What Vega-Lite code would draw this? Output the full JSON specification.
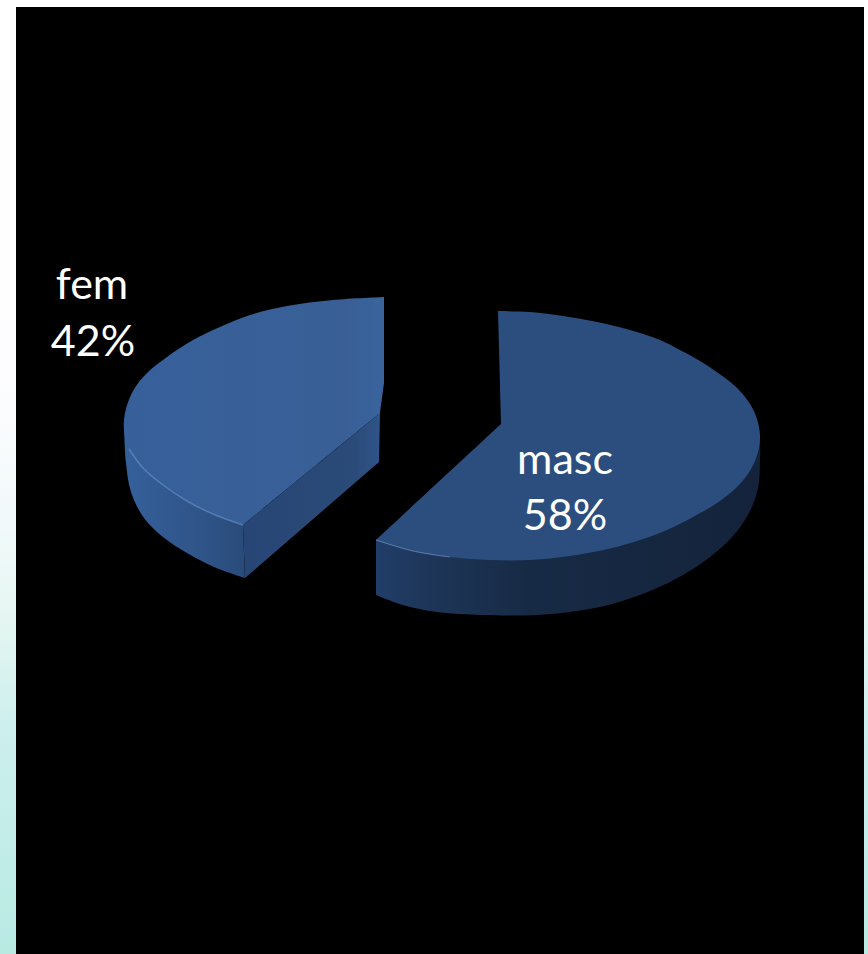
{
  "$schema": "https://vega.github.io/schema/vega-lite/v6.json",
  "width": 868,
  "height": 954,
  "padding": 0,
  "autosize": {"type": "fit", "contains": "padding"},
  "background": "#ffffff",
  "config": {"view": {"stroke": null}},
  "datasets": {
    "slide": [{"x":0,"x2":868,"y":0,"y2":954}],
    "stage": [{"x":16,"x2":864,"y":7,"y2":954}],
    "femWall": [
      {"i":1,"x":124,"y":425},{"i":2,"x":124,"y":425},{"i":3,"x":126,"y":463},{"i":4,"x":131,"y":492},{"i":5,"x":144,"y":518},{"i":6,"x":163,"y":537},{"i":7,"x":187,"y":553},{"i":8,"x":214,"y":567},{"i":9,"x":245,"y":578},{"i":10,"x":245,"y":578},
      {"i":11,"x":243,"y":525},{"i":12,"x":243,"y":525},{"i":13,"x":187,"y":500},{"i":14,"x":143,"y":467}
    ],
    "femCut": [
      {"i":1,"x":243,"y":525},{"i":2,"x":380,"y":413},{"i":3,"x":379,"y":462},{"i":4,"x":245,"y":578}
    ],
    "femTop": [
      {"i":1,"x":384,"y":297},{"i":2,"x":384,"y":297},{"i":3,"x":333,"y":300},{"i":4,"x":287,"y":306},{"i":5,"x":250,"y":315},{"i":6,"x":220,"y":327},{"i":7,"x":193,"y":340},{"i":8,"x":167,"y":357},{"i":9,"x":147,"y":373},{"i":10,"x":133,"y":391},{"i":11,"x":125,"y":413},{"i":12,"x":124,"y":430},{"i":13,"x":129,"y":449},{"i":14,"x":143,"y":468},{"i":15,"x":163,"y":485},{"i":16,"x":187,"y":501},{"i":17,"x":213,"y":514},{"i":18,"x":243,"y":525},{"i":19,"x":243,"y":525},
      {"i":20,"x":380,"y":413},{"i":21,"x":380,"y":413},{"i":22,"x":384,"y":383},{"i":23,"x":384,"y":383}
    ],
    "femRim": [
      {"i":1,"x":129,"y":449},{"i":2,"x":143,"y":468},{"i":3,"x":163,"y":485},{"i":4,"x":187,"y":501},{"i":5,"x":213,"y":514},{"i":6,"x":243,"y":525}
    ],
    "mascWall": [
      {"i":1,"x":376,"y":540},{"i":2,"x":376,"y":540},{"i":3,"x":376,"y":595},{"i":4,"x":376,"y":595},{"i":5,"x":403,"y":605},{"i":6,"x":437,"y":612},{"i":7,"x":483,"y":615},{"i":8,"x":537,"y":615},{"i":9,"x":577,"y":611},{"i":10,"x":612,"y":604},{"i":11,"x":650,"y":591},{"i":12,"x":683,"y":575},{"i":13,"x":710,"y":557},{"i":14,"x":733,"y":536},{"i":15,"x":749,"y":513},{"i":16,"x":758,"y":488},{"i":17,"x":760,"y":460},{"i":18,"x":760,"y":435},{"i":19,"x":760,"y":435},
      {"i":20,"x":560,"y":500}
    ],
    "mascTop": [
      {"i":1,"x":498,"y":311},{"i":2,"x":498,"y":311},{"i":3,"x":530,"y":312},{"i":4,"x":563,"y":316},{"i":5,"x":597,"y":322},{"i":6,"x":630,"y":330},{"i":7,"x":660,"y":340},{"i":8,"x":680,"y":350},{"i":9,"x":700,"y":361},{"i":10,"x":718,"y":373},{"i":11,"x":735,"y":386},{"i":12,"x":748,"y":401},{"i":13,"x":756,"y":416},{"i":14,"x":760,"y":435},{"i":15,"x":758,"y":452},{"i":16,"x":751,"y":469},{"i":17,"x":737,"y":487},{"i":18,"x":717,"y":503},{"i":19,"x":693,"y":517},{"i":20,"x":667,"y":530},{"i":21,"x":640,"y":540},{"i":22,"x":608,"y":549},{"i":23,"x":570,"y":556},{"i":24,"x":530,"y":560},{"i":25,"x":490,"y":560},{"i":26,"x":450,"y":557},{"i":27,"x":413,"y":551},{"i":28,"x":376,"y":540},{"i":29,"x":376,"y":540},
      {"i":30,"x":501,"y":424},{"i":31,"x":501,"y":424}
    ],
    "mascRim": [
      {"i":1,"x":376,"y":540},{"i":2,"x":413,"y":551},{"i":3,"x":450,"y":557}
    ],
    "labels": [
      {"label":"fem","x":92,"y":286},
      {"label":"42%","x":93,"y":343},
      {"label":"masc","x":565,"y":461},
      {"label":"58%","x":565,"y":517}
    ]
  },
  "encoding": {
    "x": {"field": "x", "type": "quantitative", "axis": null, "scale": {"domain": [0, 868], "nice": false, "zero": false}},
    "y": {"field": "y", "type": "quantitative", "axis": null, "scale": {"domain": [954, 0], "nice": false, "zero": false}}
  },
  "layer": [
    {
      "data": {"name": "slide"},
      "mark": {"type": "rect", "fill": {"gradient": "linear", "x1": 0, "y1": 0, "x2": 0, "y2": 1, "stops": [
        {"offset": 0, "color": "#ffffff"},
        {"offset": 0.4, "color": "#fdfdff"},
        {"offset": 0.55, "color": "#f1f9fa"},
        {"offset": 0.65, "color": "#e5f6f2"},
        {"offset": 0.76, "color": "#cdefee"},
        {"offset": 1, "color": "#b8eae2"}
      ]}},
      "encoding": {"x2": {"field": "x2"}, "y2": {"field": "y2"}}
    },
    {
      "data": {"name": "stage"},
      "mark": {"type": "rect", "fill": "#000000"},
      "encoding": {"x2": {"field": "x2"}, "y2": {"field": "y2"}}
    },
    {
      "data": {"name": "femWall"},
      "mark": {"type": "line", "interpolate": "catmull-rom", "strokeWidth": 0, "fill": {"gradient": "linear", "x1": 0, "y1": 0, "x2": 1, "y2": 0, "stops": [
        {"offset": 0, "color": "#35609a"},
        {"offset": 0.65, "color": "#2f5488"},
        {"offset": 1, "color": "#294b7a"}
      ]}},
      "encoding": {"order": {"field": "i", "type": "quantitative"}}
    },
    {
      "data": {"name": "femCut"},
      "mark": {"type": "line", "strokeWidth": 0, "fill": {"gradient": "linear", "x1": 0, "y1": 0, "x2": 1, "y2": 0, "stops": [
        {"offset": 0, "color": "#284675"},
        {"offset": 0.8, "color": "#2a4a78"},
        {"offset": 1, "color": "#305489"}
      ]}},
      "encoding": {"order": {"field": "i", "type": "quantitative"}}
    },
    {
      "data": {"name": "femTop"},
      "mark": {"type": "line", "interpolate": "catmull-rom", "strokeWidth": 0, "fill": {"gradient": "linear", "x1": 0, "y1": 0, "x2": 1, "y2": 0, "stops": [
        {"offset": 0, "color": "#37609a"},
        {"offset": 0.85, "color": "#395f96"},
        {"offset": 1, "color": "#3a639c"}
      ]}},
      "encoding": {"order": {"field": "i", "type": "quantitative"}}
    },
    {
      "data": {"name": "femRim"},
      "mark": {"type": "line", "interpolate": "catmull-rom", "stroke": "#5f8cc4", "strokeWidth": 1.5, "opacity": 0.7},
      "encoding": {"order": {"field": "i", "type": "quantitative"}}
    },
    {
      "data": {"name": "mascWall"},
      "mark": {"type": "line", "interpolate": "catmull-rom", "strokeWidth": 0, "fill": {"gradient": "linear", "x1": 0, "y1": 0, "x2": 1, "y2": 0, "stops": [
        {"offset": 0, "color": "#213e69"},
        {"offset": 0.15, "color": "#1d3557"},
        {"offset": 0.4, "color": "#172a45"},
        {"offset": 1, "color": "#14233b"}
      ]}},
      "encoding": {"order": {"field": "i", "type": "quantitative"}}
    },
    {
      "data": {"name": "mascTop"},
      "mark": {"type": "line", "interpolate": "catmull-rom", "strokeWidth": 0, "fill": "#2c4e7f"},
      "encoding": {"order": {"field": "i", "type": "quantitative"}}
    },
    {
      "data": {"name": "mascRim"},
      "mark": {"type": "line", "interpolate": "catmull-rom", "stroke": "#7fa3d0", "strokeWidth": 1, "opacity": 0.6},
      "encoding": {"order": {"field": "i", "type": "quantitative"}}
    },
    {
      "data": {"name": "labels"},
      "mark": {"type": "text", "font": "Lato", "fontSize": 43, "color": "#ffffff", "align": "center", "baseline": "middle"},
      "encoding": {"text": {"field": "label"}}
    }
  ]
}
